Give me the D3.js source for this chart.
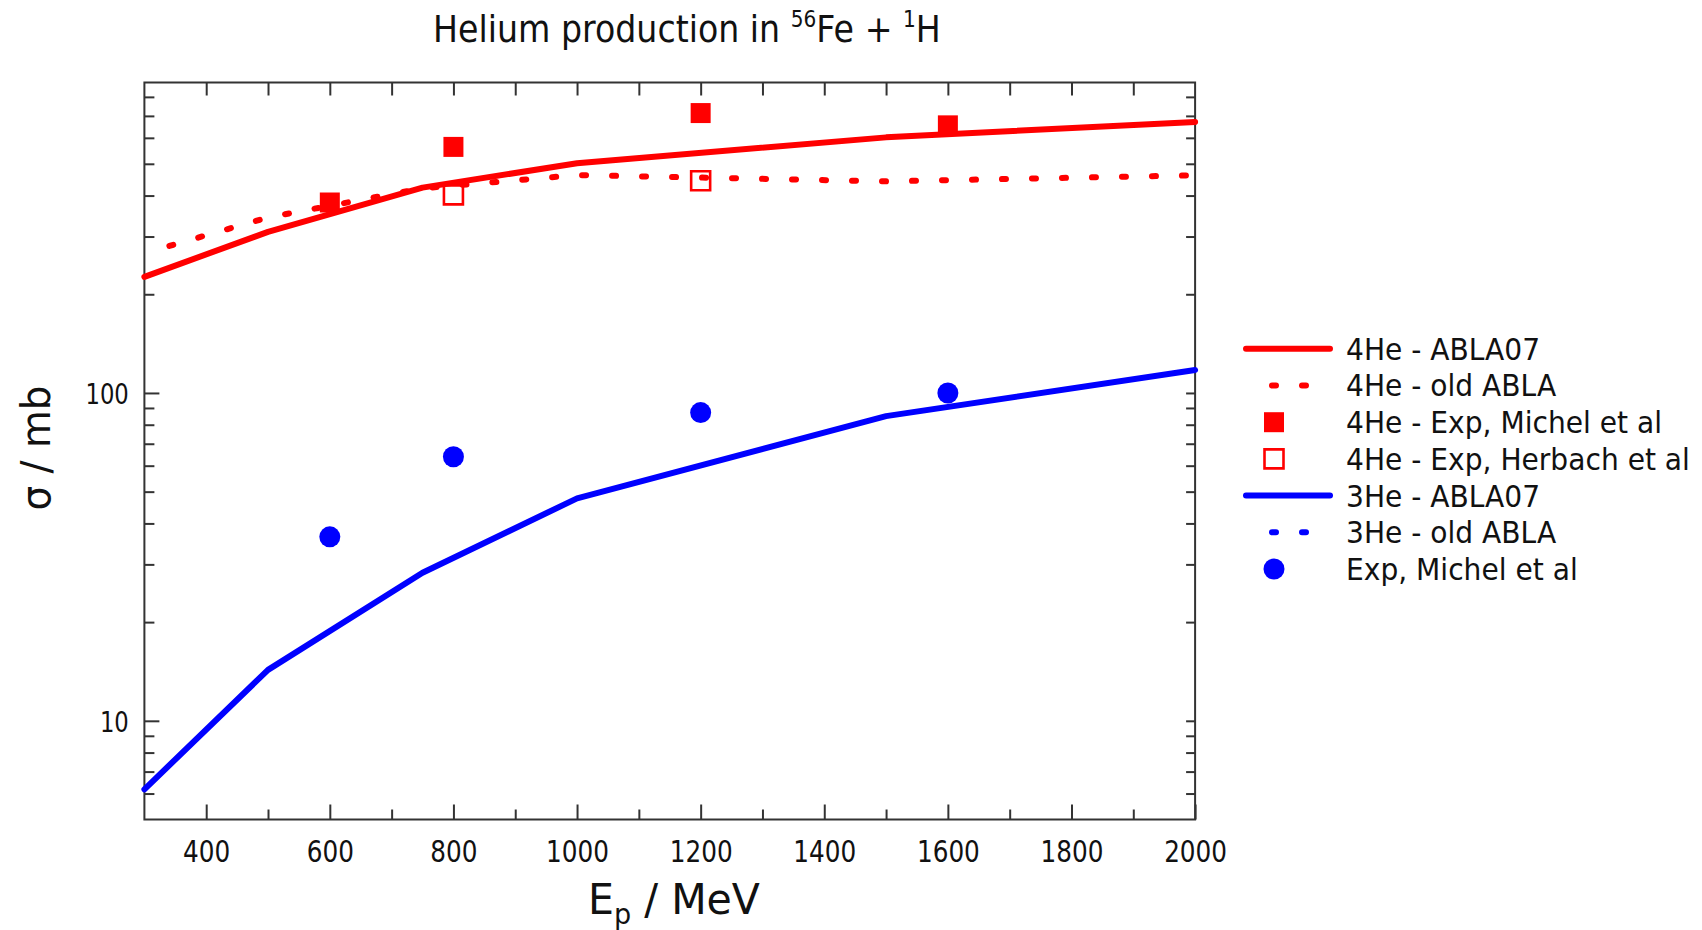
<!DOCTYPE html>
<html><head><meta charset="utf-8">
<script src="https://cdn.jsdelivr.net/npm/d3@7"></script>
<style>
body{margin:0;background:#fff;}
svg{display:block;}
text{font-family:"DejaVu Sans","Noto Sans",sans-serif;fill:#111;}
</style>
</head><body>
<svg id="chart" width="1702" height="930"></svg>
<script>
// ---------- data ----------
const energies      = [300, 500, 750, 1000, 1500, 2000];           // MeV
const he4Abla07     = [226, 310, 423, 502, 602, 671];              // mb
const he4OldAbla    = [267, 343, 421, 462, 442, 461];              // mb
const he3Abla07     = [6.18, 14.3, 28.3, 47.7, 85, 117.5];         // mb
const michelEnergies  = [600, 800, 1200, 1600];
const he4Michel       = [381, 563, 714, 655];
const herbachEnergies = [800, 1200];
const he4Herbach      = [402, 444];
const he3Michel       = [36.4, 63.9, 87.1, 100];
const xTickLabels   = [400, 600, 800, 1000, 1200, 1400, 1600, 1800, 2000];
const xMinorTicks   = [500, 700, 900, 1100, 1300, 1500, 1700, 1900];
const xTopTicks     = [400, 500, 600, 700, 800, 900, 1000, 1100, 1200, 1300, 1400, 1500, 1600, 1700, 1800, 1900];
const yTickLabels   = [10, 100];
const yMinorTicks   = [6, 7, 8, 9, 20, 30, 40, 50, 60, 70, 80, 90, 200, 300, 400, 500, 600, 700, 800];
const legendLabels  = ["4He - ABLA07", "4He - old ABLA", "4He - Exp, Michel et al",
                       "4He - Exp, Herbach et al", "3He - ABLA07", "3He - old ABLA", "Exp, Michel et al"];

// ---------- layout ----------
const RED = "#ff0000", BLUE = "#0000ff", AX = "#333333";
const L = 144.4, R = 1195.1, T = 82.5, B = 819.5;
const svg = d3.select("#chart");
const x = d3.scaleLinear().domain([300, 2000]).range([L, R]);
const y = d3.scaleLog().domain([5, 885]).range([B, T]);

// ---------- ticks via d3 axes ----------
function styleAxis(g) {
  g.select(".domain").remove();
  g.selectAll(".tick line").attr("stroke", AX).attr("stroke-width", 2);
}
// bottom major with labels
svg.append("g").attr("transform", `translate(0,${B})`)
  .call(d3.axisBottom(x).tickValues(xTickLabels).tickSize(-15).tickFormat(d3.format("d")))
  .call(styleAxis)
  .call(g => g.selectAll(".tick text")
     .attr("y", 42.8).attr("dy", null)
     .attr("font-size", 29.8).attr("font-family", "DejaVu Sans").attr("fill", "#111")
     .attr("transform", "scale(0.83,1)"));
// bottom minor
svg.append("g").attr("transform", `translate(0,${B})`)
  .call(d3.axisBottom(x).tickValues(xMinorTicks).tickSize(-10).tickFormat(""))
  .call(styleAxis);
// top
svg.append("g").attr("transform", `translate(0,${T})`)
  .call(d3.axisTop(x).tickValues(xTopTicks).tickSize(-13).tickFormat(""))
  .call(styleAxis);
// left major with labels
svg.append("g").attr("transform", `translate(${L},0)`)
  .call(d3.axisLeft(y).tickValues(yTickLabels).tickSize(-15).tickFormat(d3.format("d")))
  .call(styleAxis)
  .call(g => g.selectAll(".tick text")
     .attr("x", -19.5).attr("dy", "0.36em")
     .attr("font-size", 28.4).attr("font-family", "DejaVu Sans").attr("fill", "#111")
     .attr("transform", "scale(0.80,1)"));
// left minor
svg.append("g").attr("transform", `translate(${L},0)`)
  .call(d3.axisLeft(y).tickValues(yMinorTicks).tickSize(-10).tickFormat(""))
  .call(styleAxis);
// right
svg.append("g").attr("transform", `translate(${R},0)`)
  .call(d3.axisRight(y).tickValues(yMinorTicks.concat(yTickLabels)).tickSize(-9).tickFormat(""))
  .call(styleAxis);
// frame
svg.append("rect").attr("x", L).attr("y", T).attr("width", R - L).attr("height", B - T)
  .attr("fill", "none").attr("stroke", AX).attr("stroke-width", 2);

// ---------- lines ----------
const line = d3.line().x(d => x(d[0])).y(d => y(d[1]));
const plot = svg.append("g");
plot.append("path").datum(d3.zip(energies, he4OldAbla)).attr("d", line)
  .attr("fill", "none").attr("stroke", RED).attr("stroke-width", 6)
  .attr("stroke-linecap", "round").attr("stroke-dasharray", "4,26").attr("stroke-dashoffset", 4);
plot.append("path").datum(d3.zip(energies, he4Abla07)).attr("d", line)
  .attr("fill", "none").attr("stroke", RED).attr("stroke-width", 6)
  .attr("stroke-linecap", "round").attr("stroke-linejoin", "round");
plot.append("path").datum(d3.zip(energies, he3Abla07)).attr("d", line)
  .attr("fill", "none").attr("stroke", BLUE).attr("stroke-width", 6)
  .attr("stroke-linecap", "round").attr("stroke-linejoin", "round");

// ---------- markers ----------
const sq = d3.symbol().type(d3.symbolSquare).size(400);
const sqOpen = d3.symbol().type(d3.symbolSquare).size(19 * 19);
const circ = d3.symbol().type(d3.symbolCircle).size(Math.PI * 10.5 * 10.5);
plot.selectAll(".m4").data(d3.zip(michelEnergies, he4Michel)).join("path")
  .attr("transform", d => `translate(${x(d[0])},${y(d[1])})`).attr("d", sq).attr("fill", RED);
plot.selectAll(".h4").data(d3.zip(herbachEnergies, he4Herbach)).join("path")
  .attr("transform", d => `translate(${x(d[0])},${y(d[1])})`).attr("d", sqOpen)
  .attr("fill", "none").attr("stroke", RED).attr("stroke-width", 2.6);
plot.selectAll(".m3").data(d3.zip(michelEnergies, he3Michel)).join("path")
  .attr("transform", d => `translate(${x(d[0])},${y(d[1])})`).attr("d", circ).attr("fill", BLUE);

// ---------- legend ----------
const lg = svg.append("g");
const rowY = i => 348.8 + i * 36.7;
const kinds = ["solid", "dot", "sq", "open", "solid", "dot", "circ"];
const cols = [RED, RED, RED, RED, BLUE, BLUE, BLUE];
kinds.forEach((k, i) => {
  const yy = rowY(i);
  if (k === "solid" || k === "dot") {
    const p = lg.append("line").attr("x1", 1246).attr("x2", 1330).attr("y1", yy).attr("y2", yy)
      .attr("stroke", cols[i]).attr("stroke-width", 6).attr("stroke-linecap", "round");
    if (k === "dot") p.attr("stroke-dasharray", "4,26").attr("stroke-dashoffset", 4);
  } else if (k === "sq") {
    lg.append("path").attr("transform", `translate(1274,${yy})`).attr("d", sq).attr("fill", cols[i]);
  } else if (k === "open") {
    lg.append("path").attr("transform", `translate(1274,${yy})`).attr("d", sqOpen)
      .attr("fill", "none").attr("stroke", cols[i]).attr("stroke-width", 2.6);
  } else {
    lg.append("path").attr("transform", `translate(1274,${yy})`).attr("d", circ).attr("fill", cols[i]);
  }
});
const lgTexts = lg.selectAll(".lt").data(legendLabels).join("text")
  .attr("font-size", 30).text(d => d);
const longest = lgTexts.nodes()[3].getComputedTextLength();
const lsx = 344 / longest;
lgTexts.attr("transform", (d, i) => `translate(1346,${rowY(i) + 0.365 * 30}) scale(${lsx},1)`);

// ---------- titles ----------
const title = svg.append("text").attr("font-size", 38);
title.append("tspan").text("Helium production in ");
title.append("tspan").attr("font-size", 23).attr("dy", -15).text("56");
title.append("tspan").attr("dy", 15).text("Fe + ");
title.append("tspan").attr("font-size", 23).attr("dy", -15).text("1");
title.append("tspan").attr("dy", 15).text("H");
const tw = title.node().getBBox().width;
title.attr("transform", `translate(433,42) scale(${508 / tw},1)`);

const xt = svg.append("text").attr("font-size", 42.5);
xt.append("tspan").text("E");
xt.append("tspan").attr("font-size", 28).attr("dy", 10).text("p");
xt.append("tspan").attr("dy", -10).text(" / MeV");
const xw = xt.node().getBBox().width;
xt.attr("transform", `translate(588,914) scale(${172 / xw},1)`);

const yt = svg.append("text").attr("font-size", 40).attr("text-anchor", "middle").text("σ / mb");
const yw = yt.node().getComputedTextLength();
yt.attr("transform", `translate(50,448) rotate(-90) scale(${125 / yw},1)`);
</script>
</body></html>
